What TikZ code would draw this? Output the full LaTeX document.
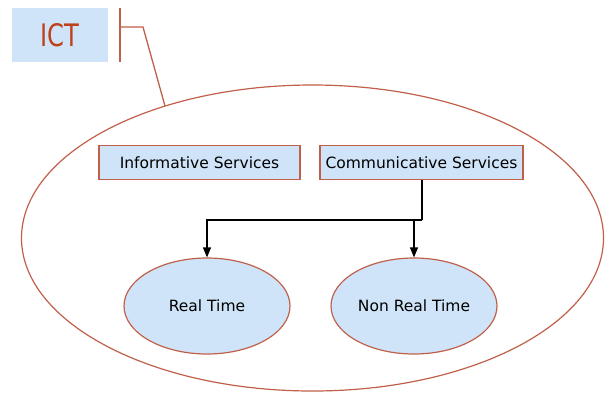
\documentclass[tikz,border=0pt]{standalone}
\usepackage{fontspec}
\setmainfont{DejaVu Sans}
\usetikzlibrary{arrows.meta,shapes.geometric}
\definecolor{paleblue}{HTML}{CFE4F8}
\definecolor{rust}{HTML}{C0604A}
\definecolor{ictred}{HTML}{C0401C}
\tikzset{
  svcbox/.style={draw=rust, line width=1.4pt, fill=paleblue, inner sep=0pt,
    minimum height=34pt, font=\fontsize{15.5}{18}\selectfont},
  timeoval/.style={ellipse, draw=rust, line width=1.2pt, fill=paleblue, inner sep=0pt,
    minimum width=166pt, minimum height=96pt, font=\fontsize{15.5}{18}\selectfont},
  link/.style={draw=black, line width=1.2pt},
  arrowlink/.style={link, -{Triangle[width=8pt,length=10pt]}},
  callout/.style={draw=rust, line width=1.3pt},
}
\begin{document}
\begin{tikzpicture}[x=1pt,y=-1pt]
  \useasboundingbox (0,0) rectangle (605,392);

  % ICT label and its callout bracket
  \node[fill=paleblue, minimum width=96pt, minimum height=54pt, inner sep=0pt,
        text=ictred, font=\fontsize{31}{34}\selectfont] (ict) at (60,35)
        {\scalebox{0.78}[1]{ICT}};
  \coordinate (brtop) at (120,8);
  \coordinate (brbot) at (120,62);
  \coordinate (brmid) at (120,27);
  \coordinate (brknee) at (143,27);
  \coordinate (brend) at (165,106);
  \draw[callout] (brtop) -- (brbot);
  \draw[callout] (brmid) -- (brknee) -- (brend);

  % enclosing ellipse
  \node[ellipse, draw=rust, line width=1.2pt, minimum width=582pt, minimum height=306pt,
        inner sep=0pt] (scope) at (312.5,238) {};

  % service boxes
  \node[svcbox, minimum width=201pt] (info) at (199.5,162.5) {Informative Services};
  \node[svcbox, minimum width=203pt] (comm) at (421.5,162.5) {Communicative Services};

  % real-time ovals
  \node[timeoval] (rt) at (207,306) {Real Time};
  \node[timeoval] (nrt) at (414,306) {Non Real Time};

  % branching connector
  \coordinate (split) at (422,220);
  \draw[link] (comm.south -| split) -- (split);
  \draw[arrowlink] (split) -- (rt.north |- split) -- (rt.north);
  \draw[arrowlink] (nrt.north |- split) -- (nrt.north);
\end{tikzpicture}
\end{document}
